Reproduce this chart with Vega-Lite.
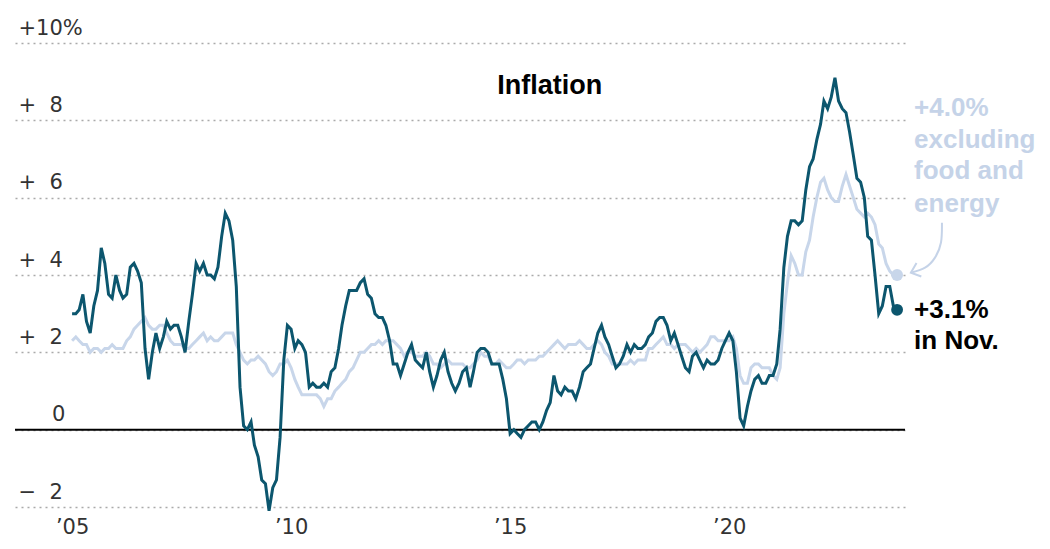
{
  "$schema": "https://vega.github.io/schema/vega-lite/v6.json",
  "width": 890,
  "height": 464,
  "autosize": {"type": "none"},
  "padding": {"left": 15, "top": 43, "right": 145, "bottom": 42},
  "background": "white",
  "config": {"view": {"stroke": null}, "font": "DejaVu Sans"},
  "datasets": {
    "cpi": [
      {"d":"2005-01-01","a":3.0,"c":2.3},{"d":"2005-02-01","a":3.0,"c":2.4},{"d":"2005-03-01","a":3.1,"c":2.3},{"d":"2005-04-01","a":3.5,"c":2.2},{"d":"2005-05-01","a":2.8,"c":2.2},{"d":"2005-06-01","a":2.5,"c":2.0},{"d":"2005-07-01","a":3.2,"c":2.1},{"d":"2005-08-01","a":3.6,"c":2.1},{"d":"2005-09-01","a":4.7,"c":2.0},{"d":"2005-10-01","a":4.3,"c":2.1},{"d":"2005-11-01","a":3.5,"c":2.1},{"d":"2005-12-01","a":3.4,"c":2.2},
      {"d":"2006-01-01","a":4.0,"c":2.1},{"d":"2006-02-01","a":3.6,"c":2.1},{"d":"2006-03-01","a":3.4,"c":2.1},{"d":"2006-04-01","a":3.5,"c":2.3},{"d":"2006-05-01","a":4.2,"c":2.4},{"d":"2006-06-01","a":4.3,"c":2.6},{"d":"2006-07-01","a":4.1,"c":2.7},{"d":"2006-08-01","a":3.8,"c":2.8},{"d":"2006-09-01","a":2.1,"c":2.9},{"d":"2006-10-01","a":1.3,"c":2.7},{"d":"2006-11-01","a":2.0,"c":2.6},{"d":"2006-12-01","a":2.5,"c":2.6},
      {"d":"2007-01-01","a":2.1,"c":2.7},{"d":"2007-02-01","a":2.4,"c":2.7},{"d":"2007-03-01","a":2.8,"c":2.5},{"d":"2007-04-01","a":2.6,"c":2.3},{"d":"2007-05-01","a":2.7,"c":2.2},{"d":"2007-06-01","a":2.7,"c":2.2},{"d":"2007-07-01","a":2.4,"c":2.2},{"d":"2007-08-01","a":2.0,"c":2.1},{"d":"2007-09-01","a":2.8,"c":2.1},{"d":"2007-10-01","a":3.5,"c":2.2},{"d":"2007-11-01","a":4.3,"c":2.3},{"d":"2007-12-01","a":4.1,"c":2.4},
      {"d":"2008-01-01","a":4.3,"c":2.5},{"d":"2008-02-01","a":4.0,"c":2.3},{"d":"2008-03-01","a":4.0,"c":2.4},{"d":"2008-04-01","a":3.9,"c":2.3},{"d":"2008-05-01","a":4.2,"c":2.3},{"d":"2008-06-01","a":5.0,"c":2.4},{"d":"2008-07-01","a":5.6,"c":2.5},{"d":"2008-08-01","a":5.4,"c":2.5},{"d":"2008-09-01","a":4.9,"c":2.5},{"d":"2008-10-01","a":3.7,"c":2.2},{"d":"2008-11-01","a":1.1,"c":2.0},{"d":"2008-12-01","a":0.1,"c":1.8},
      {"d":"2009-01-01","a":0.0,"c":1.7},{"d":"2009-02-01","a":0.2,"c":1.8},{"d":"2009-03-01","a":-0.4,"c":1.8},{"d":"2009-04-01","a":-0.7,"c":1.9},{"d":"2009-05-01","a":-1.3,"c":1.8},{"d":"2009-06-01","a":-1.4,"c":1.7},{"d":"2009-07-01","a":-2.1,"c":1.5},{"d":"2009-08-01","a":-1.5,"c":1.4},{"d":"2009-09-01","a":-1.3,"c":1.5},{"d":"2009-10-01","a":-0.2,"c":1.7},{"d":"2009-11-01","a":1.8,"c":1.7},{"d":"2009-12-01","a":2.7,"c":1.8},
      {"d":"2010-01-01","a":2.6,"c":1.6},{"d":"2010-02-01","a":2.1,"c":1.3},{"d":"2010-03-01","a":2.3,"c":1.1},{"d":"2010-04-01","a":2.2,"c":0.9},{"d":"2010-05-01","a":2.0,"c":0.9},{"d":"2010-06-01","a":1.1,"c":0.9},{"d":"2010-07-01","a":1.2,"c":0.9},{"d":"2010-08-01","a":1.1,"c":0.9},{"d":"2010-09-01","a":1.1,"c":0.8},{"d":"2010-10-01","a":1.2,"c":0.6},{"d":"2010-11-01","a":1.1,"c":0.8},{"d":"2010-12-01","a":1.5,"c":0.8},
      {"d":"2011-01-01","a":1.6,"c":1.0},{"d":"2011-02-01","a":2.1,"c":1.1},{"d":"2011-03-01","a":2.7,"c":1.2},{"d":"2011-04-01","a":3.2,"c":1.3},{"d":"2011-05-01","a":3.6,"c":1.5},{"d":"2011-06-01","a":3.6,"c":1.6},{"d":"2011-07-01","a":3.6,"c":1.8},{"d":"2011-08-01","a":3.8,"c":2.0},{"d":"2011-09-01","a":3.9,"c":2.0},{"d":"2011-10-01","a":3.5,"c":2.1},{"d":"2011-11-01","a":3.4,"c":2.2},{"d":"2011-12-01","a":3.0,"c":2.2},
      {"d":"2012-01-01","a":2.9,"c":2.3},{"d":"2012-02-01","a":2.9,"c":2.2},{"d":"2012-03-01","a":2.7,"c":2.3},{"d":"2012-04-01","a":2.3,"c":2.3},{"d":"2012-05-01","a":1.7,"c":2.3},{"d":"2012-06-01","a":1.7,"c":2.2},{"d":"2012-07-01","a":1.4,"c":2.1},{"d":"2012-08-01","a":1.7,"c":1.9},{"d":"2012-09-01","a":2.0,"c":2.0},{"d":"2012-10-01","a":2.2,"c":2.0},{"d":"2012-11-01","a":1.8,"c":1.9},{"d":"2012-12-01","a":1.7,"c":1.9},
      {"d":"2013-01-01","a":1.6,"c":1.9},{"d":"2013-02-01","a":2.0,"c":2.0},{"d":"2013-03-01","a":1.5,"c":1.9},{"d":"2013-04-01","a":1.1,"c":1.7},{"d":"2013-05-01","a":1.4,"c":1.7},{"d":"2013-06-01","a":1.8,"c":1.6},{"d":"2013-07-01","a":2.0,"c":1.7},{"d":"2013-08-01","a":1.5,"c":1.8},{"d":"2013-09-01","a":1.2,"c":1.7},{"d":"2013-10-01","a":1.0,"c":1.7},{"d":"2013-11-01","a":1.2,"c":1.7},{"d":"2013-12-01","a":1.5,"c":1.7},
      {"d":"2014-01-01","a":1.6,"c":1.6},{"d":"2014-02-01","a":1.1,"c":1.6},{"d":"2014-03-01","a":1.5,"c":1.7},{"d":"2014-04-01","a":2.0,"c":1.8},{"d":"2014-05-01","a":2.1,"c":2.0},{"d":"2014-06-01","a":2.1,"c":1.9},{"d":"2014-07-01","a":2.0,"c":1.9},{"d":"2014-08-01","a":1.7,"c":1.7},{"d":"2014-09-01","a":1.7,"c":1.7},{"d":"2014-10-01","a":1.7,"c":1.8},{"d":"2014-11-01","a":1.3,"c":1.7},{"d":"2014-12-01","a":0.8,"c":1.6},
      {"d":"2015-01-01","a":-0.1,"c":1.6},{"d":"2015-02-01","a":0.0,"c":1.7},{"d":"2015-03-01","a":-0.1,"c":1.8},{"d":"2015-04-01","a":-0.2,"c":1.8},{"d":"2015-05-01","a":0.0,"c":1.7},{"d":"2015-06-01","a":0.1,"c":1.8},{"d":"2015-07-01","a":0.2,"c":1.8},{"d":"2015-08-01","a":0.2,"c":1.8},{"d":"2015-09-01","a":0.0,"c":1.9},{"d":"2015-10-01","a":0.2,"c":1.9},{"d":"2015-11-01","a":0.5,"c":2.0},{"d":"2015-12-01","a":0.7,"c":2.1},
      {"d":"2016-01-01","a":1.4,"c":2.2},{"d":"2016-02-01","a":1.0,"c":2.3},{"d":"2016-03-01","a":0.9,"c":2.2},{"d":"2016-04-01","a":1.1,"c":2.1},{"d":"2016-05-01","a":1.0,"c":2.2},{"d":"2016-06-01","a":1.0,"c":2.2},{"d":"2016-07-01","a":0.8,"c":2.2},{"d":"2016-08-01","a":1.1,"c":2.3},{"d":"2016-09-01","a":1.5,"c":2.2},{"d":"2016-10-01","a":1.6,"c":2.1},{"d":"2016-11-01","a":1.7,"c":2.1},{"d":"2016-12-01","a":2.1,"c":2.2},
      {"d":"2017-01-01","a":2.5,"c":2.3},{"d":"2017-02-01","a":2.7,"c":2.2},{"d":"2017-03-01","a":2.4,"c":2.0},{"d":"2017-04-01","a":2.2,"c":1.9},{"d":"2017-05-01","a":1.9,"c":1.7},{"d":"2017-06-01","a":1.6,"c":1.7},{"d":"2017-07-01","a":1.7,"c":1.7},{"d":"2017-08-01","a":1.9,"c":1.7},{"d":"2017-09-01","a":2.2,"c":1.7},{"d":"2017-10-01","a":2.0,"c":1.8},{"d":"2017-11-01","a":2.2,"c":1.7},{"d":"2017-12-01","a":2.1,"c":1.8},
      {"d":"2018-01-01","a":2.1,"c":1.8},{"d":"2018-02-01","a":2.2,"c":1.8},{"d":"2018-03-01","a":2.4,"c":2.1},{"d":"2018-04-01","a":2.5,"c":2.1},{"d":"2018-05-01","a":2.8,"c":2.2},{"d":"2018-06-01","a":2.9,"c":2.3},{"d":"2018-07-01","a":2.9,"c":2.4},{"d":"2018-08-01","a":2.7,"c":2.2},{"d":"2018-09-01","a":2.3,"c":2.2},{"d":"2018-10-01","a":2.5,"c":2.1},{"d":"2018-11-01","a":2.2,"c":2.2},{"d":"2018-12-01","a":1.9,"c":2.2},
      {"d":"2019-01-01","a":1.6,"c":2.2},{"d":"2019-02-01","a":1.5,"c":2.1},{"d":"2019-03-01","a":1.9,"c":2.0},{"d":"2019-04-01","a":2.0,"c":2.1},{"d":"2019-05-01","a":1.8,"c":2.0},{"d":"2019-06-01","a":1.6,"c":2.1},{"d":"2019-07-01","a":1.8,"c":2.2},{"d":"2019-08-01","a":1.7,"c":2.4},{"d":"2019-09-01","a":1.7,"c":2.4},{"d":"2019-10-01","a":1.8,"c":2.3},{"d":"2019-11-01","a":2.1,"c":2.3},{"d":"2019-12-01","a":2.3,"c":2.3},
      {"d":"2020-01-01","a":2.5,"c":2.3},{"d":"2020-02-01","a":2.3,"c":2.4},{"d":"2020-03-01","a":1.5,"c":2.1},{"d":"2020-04-01","a":0.3,"c":1.4},{"d":"2020-05-01","a":0.1,"c":1.2},{"d":"2020-06-01","a":0.6,"c":1.2},{"d":"2020-07-01","a":1.0,"c":1.6},{"d":"2020-08-01","a":1.3,"c":1.7},{"d":"2020-09-01","a":1.4,"c":1.7},{"d":"2020-10-01","a":1.2,"c":1.6},{"d":"2020-11-01","a":1.2,"c":1.6},{"d":"2020-12-01","a":1.4,"c":1.6},
      {"d":"2021-01-01","a":1.4,"c":1.4},{"d":"2021-02-01","a":1.7,"c":1.3},{"d":"2021-03-01","a":2.6,"c":1.6},{"d":"2021-04-01","a":4.2,"c":3.0},{"d":"2021-05-01","a":5.0,"c":3.8},{"d":"2021-06-01","a":5.4,"c":4.5},{"d":"2021-07-01","a":5.4,"c":4.3},{"d":"2021-08-01","a":5.3,"c":4.0},{"d":"2021-09-01","a":5.4,"c":4.0},{"d":"2021-10-01","a":6.2,"c":4.6},{"d":"2021-11-01","a":6.8,"c":4.9},{"d":"2021-12-01","a":7.0,"c":5.5},
      {"d":"2022-01-01","a":7.5,"c":6.0},{"d":"2022-02-01","a":7.9,"c":6.4},{"d":"2022-03-01","a":8.5,"c":6.5},{"d":"2022-04-01","a":8.3,"c":6.2},{"d":"2022-05-01","a":8.6,"c":6.0},{"d":"2022-06-01","a":9.1,"c":5.9},{"d":"2022-07-01","a":8.5,"c":5.9},{"d":"2022-08-01","a":8.3,"c":6.3},{"d":"2022-09-01","a":8.2,"c":6.6},{"d":"2022-10-01","a":7.7,"c":6.3},{"d":"2022-11-01","a":7.1,"c":6.0},{"d":"2022-12-01","a":6.5,"c":5.7},
      {"d":"2023-01-01","a":6.4,"c":5.6},{"d":"2023-02-01","a":6.0,"c":5.5},{"d":"2023-03-01","a":5.0,"c":5.6},{"d":"2023-04-01","a":4.9,"c":5.5},{"d":"2023-05-01","a":4.0,"c":5.3},{"d":"2023-06-01","a":3.0,"c":4.8},{"d":"2023-07-01","a":3.2,"c":4.7},{"d":"2023-08-01","a":3.7,"c":4.3},{"d":"2023-09-01","a":3.7,"c":4.1},{"d":"2023-10-01","a":3.2,"c":4.0},{"d":"2023-11-01","a":3.1,"c":4.0}
    ],
    "arrow": [
      {"d":"2024-11-09","v":5.35,"o":1},{"d":"2024-11-01","v":4.84,"o":2},{"d":"2024-09-12","v":4.45,"o":3},{"d":"2024-06-21","v":4.19,"o":4},{"d":"2024-02-24","v":4.06,"o":5}
    ],
    "arrowhead": [
      {"d":"2024-04-11","v":4.31,"o":1},{"d":"2024-02-24","v":4.06,"o":2},{"d":"2024-05-21","v":3.96,"o":3}
    ],
    "coreLabel": [
      {"d":"2023-11-01","v":8.12,"t":"+4.0%"},{"d":"2023-11-01","v":7.29,"t":"excluding"},{"d":"2023-11-01","v":6.47,"t":"food and"},{"d":"2023-11-01","v":5.64,"t":"energy"}
    ],
    "headLabel": [
      {"d":"2023-11-01","v":2.90,"t":"+3.1%"},{"d":"2023-11-01","v":2.09,"t":"in Nov."}
    ],
    "title": [
      {"d":"2015-11-28","v":8.69,"t":"Inflation"}
    ]
  },
  "layer": [
    {
      "data": {"name": "cpi"},
      "mark": {"type": "line", "color": "#c8d6ea", "strokeWidth": 3},
      "encoding": {
        "x": {
          "field": "d", "type": "temporal",
          "scale": {"type": "utc", "domain": [{"year": 2003, "month": 9, "date": 13, "utc": true}, {"year": 2024, "month": 1, "date": 6, "utc": true}]},
          "axis": {
            "title": null,
            "values": [{"year": 2005, "month": 1, "date": 1, "utc": true}, {"year": 2010, "month": 1, "date": 1, "utc": true}, {"year": 2015, "month": 1, "date": 1, "utc": true}, {"year": 2020, "month": 1, "date": 1, "utc": true}],
            "labelExpr": "'\u2019' + utcFormat(datum.value, '%y')",
            "domain": false, "ticks": false, "tickSize": 0, "grid": false,
            "labelFont": "DejaVu Sans", "labelFontSize": 21, "labelColor": "#333333",
            "labelBaseline": "alphabetic", "labelPadding": 26, "labelFlush": false, "labelOverlap": false
          }
        },
        "y": {
          "field": "c", "type": "quantitative",
          "scale": {"domain": [-2, 10]},
          "axis": {
            "title": null,
            "values": [-2, 0, 2, 4, 6, 8, 10],
            "labelExpr": "datum.value == 10 ? '+10%' : datum.value == 0 ? '\u200b\u2007\u2007\u00a00' : datum.value > 0 ? '+\u2007' + datum.value : '\u2212\u2007' + abs(datum.value)",
            "domain": false, "ticks": false, "tickSize": 0,
            "grid": true, "gridColor": "#aaaaaa", "gridDash": [2, 4], "gridWidth": 1.5,
            "labelAlign": "left", "labelPadding": -3, "labelBaseline": "alphabetic", "labelOffset": -9,
            "labelFont": "DejaVu Sans", "labelFontSize": 21, "labelColor": "#333333",
            "labelOverlap": false, "labelFlush": false, "labelBound": false
          }
        }
      }
    },
    {
      "data": {"values": [{"v": 0}]},
      "mark": {"type": "rule", "color": "#000000", "strokeWidth": 2},
      "encoding": {
        "y": {"field": "v", "type": "quantitative"}
      }
    },
    {
      "data": {"name": "cpi"},
      "mark": {"type": "line", "color": "#0c566e", "strokeWidth": 3},
      "encoding": {
        "x": {"field": "d", "type": "temporal"},
        "y": {"field": "a", "type": "quantitative"}
      }
    },
    {
      "data": {"name": "cpi"},
      "transform": [{"filter": "year(datum.d) == 2023 && month(datum.d) == 10"}],
      "mark": {"type": "point", "filled": true, "opacity": 1, "color": "#c8d6ea", "size": 140},
      "encoding": {
        "x": {"field": "d", "type": "temporal"},
        "y": {"field": "c", "type": "quantitative"}
      }
    },
    {
      "data": {"name": "cpi"},
      "transform": [{"filter": "year(datum.d) == 2023 && month(datum.d) == 10"}],
      "mark": {"type": "point", "filled": true, "opacity": 1, "color": "#0c566e", "size": 140},
      "encoding": {
        "x": {"field": "d", "type": "temporal"},
        "y": {"field": "a", "type": "quantitative"}
      }
    },
    {
      "data": {"name": "arrow"},
      "mark": {"type": "line", "color": "#c5d3e8", "strokeWidth": 2, "interpolate": "natural"},
      "encoding": {
        "x": {"field": "d", "type": "temporal"},
        "y": {"field": "v", "type": "quantitative"},
        "order": {"field": "o", "type": "quantitative"}
      }
    },
    {
      "data": {"name": "arrowhead"},
      "mark": {"type": "line", "color": "#c5d3e8", "strokeWidth": 2, "strokeJoin": "miter"},
      "encoding": {
        "x": {"field": "d", "type": "temporal"},
        "y": {"field": "v", "type": "quantitative"},
        "order": {"field": "o", "type": "quantitative"}
      }
    },
    {
      "data": {"name": "coreLabel"},
      "mark": {"type": "text", "align": "left", "baseline": "alphabetic", "dx": 17, "font": "Liberation Sans", "fontWeight": "bold", "fontSize": 26, "color": "#c5d3e8"},
      "encoding": {
        "x": {"field": "d", "type": "temporal"},
        "y": {"field": "v", "type": "quantitative"},
        "text": {"field": "t"}
      }
    },
    {
      "data": {"name": "headLabel"},
      "mark": {"type": "text", "align": "left", "baseline": "alphabetic", "dx": 17, "font": "Liberation Sans", "fontWeight": "bold", "fontSize": 26, "color": "#000000"},
      "encoding": {
        "x": {"field": "d", "type": "temporal"},
        "y": {"field": "v", "type": "quantitative"},
        "text": {"field": "t"}
      }
    },
    {
      "data": {"name": "title"},
      "mark": {"type": "text", "align": "center", "baseline": "alphabetic", "font": "Liberation Sans", "fontWeight": "bold", "fontSize": 27, "color": "#000000"},
      "encoding": {
        "x": {"field": "d", "type": "temporal"},
        "y": {"field": "v", "type": "quantitative"},
        "text": {"field": "t"}
      }
    }
  ]
}
